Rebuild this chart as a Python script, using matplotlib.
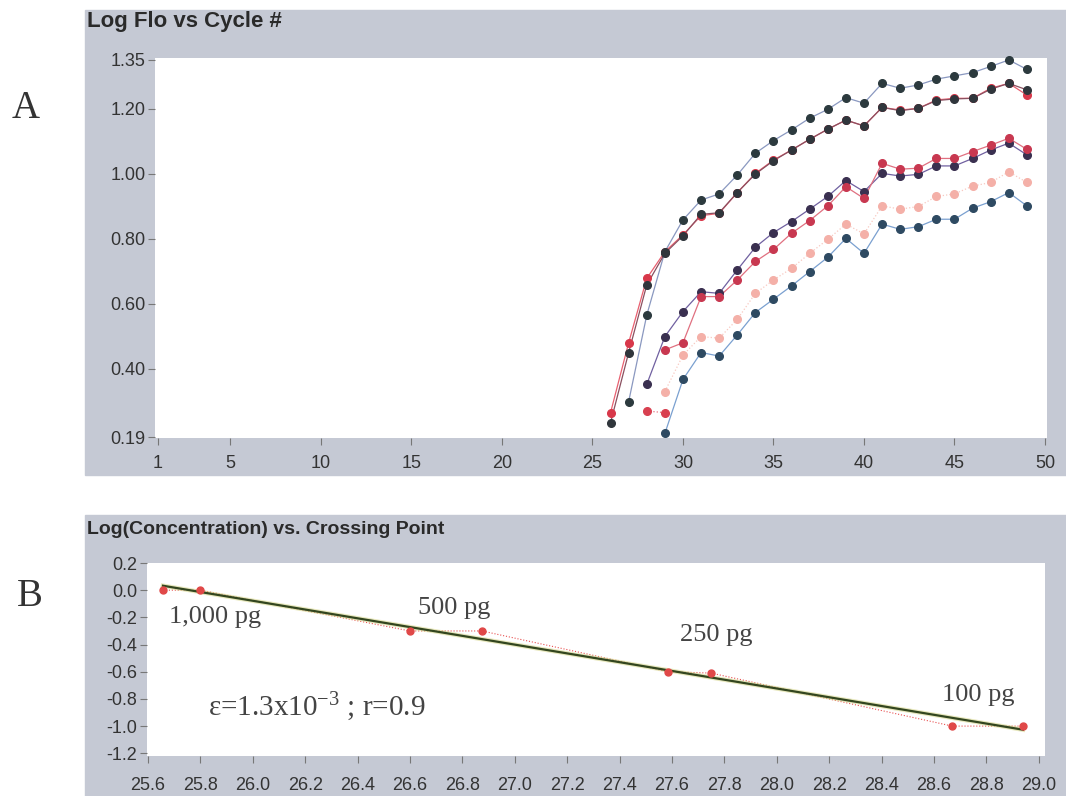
import numpy as np
import matplotlib
matplotlib.use("Agg")
import matplotlib.pyplot as plt
from matplotlib.patches import Rectangle

# ---- panel A: log fluorescence per cycle ----
p_red_cycles = list(range(26, 50))
p_red = [0.265, 0.480, 0.678, 0.760, 0.812, 0.871, 0.878, 0.942, 1.001, 1.042, 1.073, 1.106,
         1.137, 1.165, 1.147, 1.204, 1.196, 1.201, 1.227, 1.232, 1.232, 1.263, 1.278, 1.242]
p_dark_cycles = list(range(26, 50))
p_dark = [0.234, 0.450, 0.658, 0.755, 0.809, 0.875, 0.880, 0.942, 0.999, 1.040, 1.073, 1.106,
          1.137, 1.165, 1.147, 1.204, 1.194, 1.201, 1.225, 1.230, 1.232, 1.260, 1.278, 1.258]
q_cycles = list(range(27, 50))
q_dark = [0.299, 0.565, 0.760, 0.858, 0.919, 0.938, 0.996, 1.063, 1.102, 1.135, 1.171, 1.198,
          1.234, 1.217, 1.278, 1.263, 1.273, 1.291, 1.301, 1.311, 1.330, 1.350, 1.321]
m_dark_cycles = list(range(28, 50))
m_dark = [0.352, 0.499, 0.576, 0.637, 0.632, 0.704, 0.774, 0.819, 0.853, 0.891, 0.930, 0.979,
          0.945, 1.001, 0.993, 0.998, 1.024, 1.024, 1.047, 1.073, 1.094, 1.058]
m_red_cycles = list(range(29, 50))
m_red = [0.458, 0.480, 0.622, 0.622, 0.673, 0.730, 0.767, 0.817, 0.856, 0.901, 0.960,
         0.924, 1.032, 1.014, 1.017, 1.047, 1.047, 1.068, 1.088, 1.109, 1.075]
r2_cycles = [28, 29]
r2 = [0.270, 0.265]
pink_cycles = list(range(29, 50))
pink = [0.330, 0.442, 0.499, 0.494, 0.552, 0.632, 0.673, 0.709, 0.755, 0.798, 0.845,
        0.815, 0.901, 0.891, 0.899, 0.930, 0.938, 0.962, 0.973, 1.006, 0.973]
blue_cycles = list(range(29, 50))
blue = [0.201, 0.367, 0.450, 0.439, 0.504, 0.573, 0.614, 0.655, 0.699, 0.743, 0.801,
        0.755, 0.845, 0.829, 0.837, 0.860, 0.860, 0.894, 0.914, 0.942, 0.901]

a_xticks = [1, 5, 10, 15, 20, 25, 30, 35, 40, 45, 50]
a_yticks = [0.19, 0.40, 0.60, 0.80, 1.00, 1.20, 1.35]

# ---- panel B: standard curve ----
crossing_pt = [25.657, 25.80, 26.60, 26.875, 27.585, 27.75, 28.67, 28.94]
log_conc = [0.0, 0.0, -0.30, -0.30, -0.60, -0.61, -1.00, -1.00]
b_labels = ["1,000 pg", "500 pg", "250 pg", "100 pg"]
b_label_pos = [(25.68, -0.20), (26.63, -0.13), (27.63, -0.33), (28.63, -0.77)]
b_xticks = [25.6, 25.8, 26.0, 26.2, 26.4, 26.6, 26.8, 27.0, 27.2, 27.4,
            27.6, 27.8, 28.0, 28.2, 28.4, 28.6, 28.8, 29.0]
b_yticks = [0.2, 0.0, -0.2, -0.4, -0.6, -0.8, -1.0, -1.2]

GRAY = "#c5c9d4"
TICK_FONT = "Liberation Sans"
W, H = 1066, 796

plt.rcParams["mathtext.fontset"] = "stix"
fig = plt.figure(figsize=(W / 100, H / 100), dpi=100)
fig.patch.set_facecolor("white")


def fx(px):
    return px / W


def fy(py):
    return 1 - py / H


# gray panel backgrounds (drawn beneath the axes)
fig.patches.append(Rectangle((fx(85), fy(475)), fx(W - 85), (475 - 10) / H,
                             transform=fig.transFigure, color=GRAY, zorder=-5))
fig.patches.append(Rectangle((fx(85), 0), fx(W - 85), (796 - 515) / H,
                             transform=fig.transFigure, color=GRAY, zorder=-5))


def style_axis(ax, xpad):
    for s in ax.spines.values():
        s.set_visible(False)
    ax.tick_params(direction="out", length=5, width=0.8, color="#777777",
                   labelsize=13, labelcolor="#333333", pad=2)
    ax.tick_params(axis="x", pad=xpad)
    for lab in ax.get_xticklabels() + ax.get_yticklabels():
        lab.set_fontfamily(TICK_FONT)


# ---------------- panel A ----------------
axA = fig.add_axes([fx(155), fy(438), fx(1047 - 155), (438 - 58) / H])
axA.set_zorder(2)
axA.set_facecolor("white")

# red duplicates first so the dark markers sit on top, as in the original
series = [
    (p_red_cycles, p_red, "#d8384a", "#e86070", "-"),
    (q_cycles, q_dark, "#2c3a3e", "#8a98c0", "-"),
    (p_dark_cycles, p_dark, "#30363c", "#8a5060", "-"),
    (pink_cycles, pink, "#f4b0a8", "#f8c8c0", ":"),
    (blue_cycles, blue, "#2e4a62", "#7aa0d0", "-"),
    (m_dark_cycles, m_dark, "#3a3050", "#7060a0", "-"),
    (m_red_cycles, m_red, "#c83850", "#e07080", "-"),
    (r2_cycles, r2, "#d84050", "#e87080", ":"),
]
for cyc, vals, mcol, lcol, ls in series:
    axA.plot(cyc, vals, color=lcol, lw=0.9, ls=ls, zorder=2)
    axA.plot(cyc, vals, ls="none", marker="o", ms=5.5, mfc=mcol, mec=mcol,
             zorder=3, clip_on=False)

axA.set_xlim(0.834, 50.11)
axA.set_ylim(0.187, 1.356)
axA.set_xticks(a_xticks)
axA.set_yticks(a_yticks)
axA.set_yticklabels([f"{v:.2f}" for v in a_yticks])
style_axis(axA, 7)

fig.text(fx(87), fy(22), "Log Flo vs Cycle #", fontsize=16, fontweight="bold",
         family=TICK_FONT, color="#2a2a2a", va="center", ha="left")
fig.text(fx(12), fy(108), "A", fontsize=28, family="Liberation Serif",
         color="#333333", va="center", ha="left")

# ---------------- panel B ----------------
axB = fig.add_axes([fx(147), fy(756), fx(1045 - 147), (756 - 563) / H])
axB.set_zorder(2)
axB.set_facecolor("white")

axB.plot(crossing_pt, log_conc, color="#e85050", lw=0.8, ls=":", zorder=2)
slope, intercept = np.polyfit(crossing_pt, log_conc, 1)
fit_x = np.array([crossing_pt[0], crossing_pt[-1]])
axB.plot(fit_x, slope * fit_x + intercept, color="#d8d890", lw=3.2, alpha=0.6, zorder=3)
axB.plot(fit_x, slope * fit_x + intercept, color="#33461f", lw=1.6, zorder=4)
axB.plot(crossing_pt, log_conc, ls="none", marker="o", ms=5, mfc="#e04848",
         mec="#e04848", zorder=5, clip_on=False)

for txt, (x, y) in zip(b_labels, b_label_pos):
    axB.text(x, y, txt, fontsize=19, family="Liberation Serif", color="#444444",
             va="center", ha="left")
axB.text(25.83, -0.86, r"ε=1.3x10$\mathregular{^{-3}}$ ; r=0.9", fontsize=21,
         family="Liberation Serif", color="#444444", va="center", ha="left")

axB.set_xlim(25.596, 29.024)
axB.set_ylim(-1.22, 0.2)
axB.set_xticks(b_xticks)
axB.set_xticklabels([f"{v:.1f}" for v in b_xticks])
axB.set_yticks(b_yticks)
axB.set_yticklabels([f"{v:.1f}" for v in b_yticks])
style_axis(axB, 10)

fig.text(fx(87), fy(530), "Log(Concentration) vs. Crossing Point", fontsize=14,
         fontweight="bold", family=TICK_FONT, color="#2a2a2a", va="center", ha="left")
fig.text(fx(17), fy(596), "B", fontsize=28, family="Liberation Serif",
         color="#333333", va="center", ha="left")

fig.savefig("out.png", dpi=100, facecolor="white")
